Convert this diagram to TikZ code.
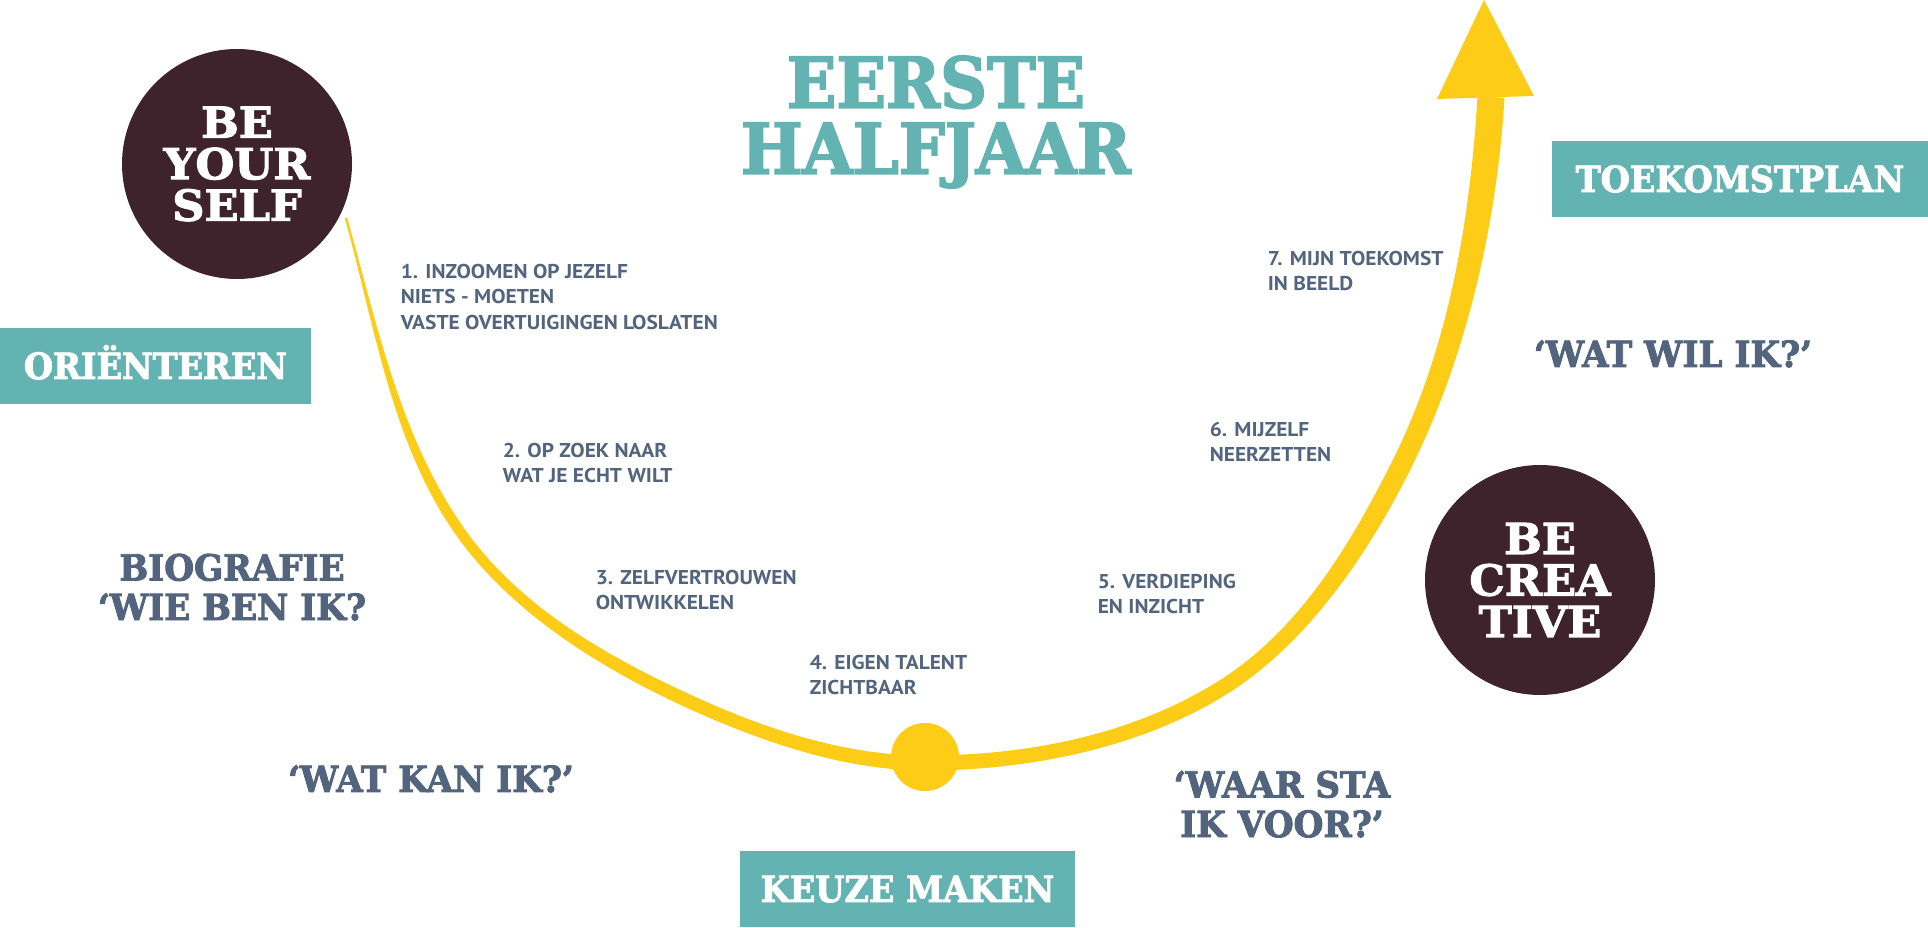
\documentclass[tikz,border=0pt]{standalone}
\usepackage{fontspec}
\usepackage{graphicx}
\newfontfamily\slabC{DejaVu Serif}[BoldFeatures={FakeBold=2.5,FakeStretch=1.05}]
\newfontfamily\slabB{DejaVu Serif}[BoldFeatures={FakeBold=2.5,FakeStretch=0.93}]
\newfontfamily\slabQ{DejaVu Serif}[BoldFeatures={FakeBold=2.5,FakeStretch=0.95}]
\newfontfamily\lab{PT Sans}[BoldFeatures={FakeStretch=1.07}]
\definecolor{tealc}{RGB}{99,179,178}
\definecolor{maroon}{RGB}{62,34,44}
\definecolor{ylw}{RGB}{253,204,22}
\definecolor{slate}{RGB}{82,100,126}
\newcommand\LF{\lab\bfseries\fontsize{5}{6.375}\selectfont}
\tikzset{
  bigcirc/.style={circle, fill=maroon, minimum size=57.5pt, inner sep=0pt, text=white, align=center, font=\slabC\bfseries\fontsize{10.625}{10.375}\selectfont},
  tbox/.style={rectangle, fill=tealc, inner sep=0pt, text=white, font=\slabB\bfseries\fontsize{9}{9}\selectfont, text height=6.5pt, text depth=0pt, minimum height=19pt},
  quest/.style={text=slate, inner sep=0pt, align=center, font=\slabQ\bfseries\fontsize{9}{9.875}\selectfont},
  steplabel/.style={text=slate, inner sep=0pt, align=left, anchor=north west, font=\LF},
}
\begin{document}
\begin{tikzpicture}[x=0.25pt,y=-0.25pt]
\useasboundingbox (0,0) rectangle (1928,928);
% yellow path
\coordinate (start) at (346,218);
\coordinate (bottom) at (925,757);
\coordinate (top) at (1491,97);
\coordinate (tip) at (1484,0);
\fill[ylw] (344.8,218.3)
  .. controls (374.8,325.8) and (391.7,444.7) .. (456.7,536.0)
  .. controls (510.7,611.8) and (598.6,667.1) .. (683.2,706.1)
  .. controls (757.8,740.5) and (843,770.5) .. (925,770.5)
  .. controls (1027,770.5) and (1139.4,748.6) .. (1226.1,694.6)
  .. controls (1306.1,644.8) and (1366.6,556.2) .. (1408.9,472.5)
  .. controls (1465.9,359.5) and (1496.9,224.8) .. (1504.5,97.8)
  -- (1477.5,96.2)
  .. controls (1469.9,223.2) and (1448.1,350.5) .. (1391.1,463.5)
  .. controls (1348.8,547.2) and (1297.9,631.6) .. (1217.9,681.4)
  .. controls (1131.2,735.4) and (1027,755.5) .. (925,755.5)
  .. controls (843,755.5) and (763.4,728.3) .. (688.8,693.9)
  .. controls (604.2,654.9) and (519.3,605.8) .. (465.3,530.0)
  .. controls (400.3,438.7) and (377.2,325.2) .. (347.2,217.7)
  -- cycle;
\fill[ylw] (1437,99) -- (tip) -- (1534,96) -- cycle;
\node[circle, fill=ylw, minimum size=17pt, inner sep=0pt] (dot) at (bottom) {};
% circles
\node[bigcirc] (beyourself) at (237,164) {BE\\YOUR\\SELF};
\node[bigcirc] (becreative) at (1540,580) {BE\\CREA\\TIVE};
% title
\node[text=tealc, inner sep=0pt, align=center, anchor=north, font=\slabB\bfseries\fontsize{17.5}{16.5}\selectfont] (title) at (936,55) {EERSTE\\HALFJAAR};
% teal boxes
\node[tbox, minimum width=77.75pt] (orient) at (155.5,366) {ORIËNTEREN};
\node[tbox, minimum width=94pt] (toekomst) at (1740,179) {TOEKOMSTPLAN};
\node[tbox, minimum width=83.75pt] (keuze) at (907.5,889) {KEUZE MAKEN};
% questions
\node[quest, anchor=north] (bio) at (232,553) {BIOGRAFIE\\‘WIE BEN IK?};
\node[quest, anchor=base] (watkan) at (431,792) {‘WAT KAN IK?’};
\node[quest, anchor=base] (watwil) at (1673,367) {‘WAT WIL IK?’};
\node[quest, anchor=north] (waarsta) at (1282,770) {‘WAAR STA\\IK VOOR?’};
% step labels
\node[steplabel] (s1) at (400,263) {1. INZOOMEN OP JEZELF\\NIETS - MOETEN\\VASTE OVERTUIGINGEN LOSLATEN};
\node[steplabel] (s2) at (502,442) {2. OP ZOEK NAAR\\WAT JE ECHT WILT};
\node[steplabel] (s3) at (595,569) {3. ZELFVERTROUWEN\\ONTWIKKELEN};
\node[steplabel] (s4) at (809,654) {4. EIGEN TALENT\\ZICHTBAAR};
\node[steplabel] (s5) at (1097,573) {5. VERDIEPING\\EN INZICHT};
\node[steplabel] (s6) at (1209,421) {6. MIJZELF\\NEERZETTEN};
\node[steplabel] (s7) at (1267,250) {7. MIJN TOEKOMST\\IN BEELD};
\end{tikzpicture}
\end{document}
